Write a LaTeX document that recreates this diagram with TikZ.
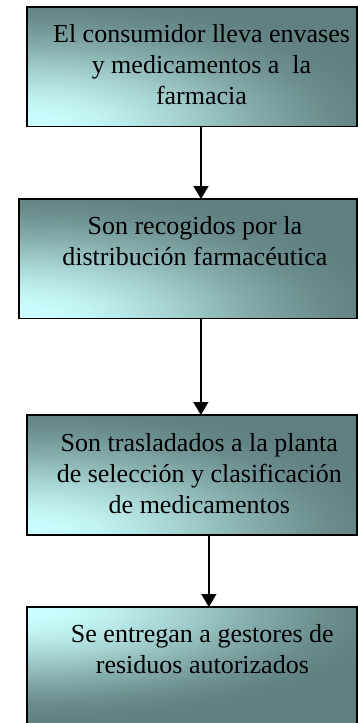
\documentclass[tikz,border=0pt]{standalone}
\usepackage{fontspec}
\setmainfont{Liberation Serif}
\usetikzlibrary{arrows.meta}
\definecolor{lightc}{HTML}{CCFFFF}
\definecolor{darkc}{HTML}{5F807F}
\pgfdeclareradialshading{stageglow}{\pgfpointorigin}{color(0bp)=(lightc);
  color(2.5bp)=(lightc!97!darkc); color(5bp)=(lightc!90!darkc);
  color(7.5bp)=(lightc!78!darkc); color(10bp)=(lightc!65!darkc);
  color(12.5bp)=(lightc!50!darkc); color(15bp)=(lightc!35!darkc);
  color(17.5bp)=(lightc!22!darkc); color(20bp)=(lightc!10!darkc);
  color(22.5bp)=(lightc!3!darkc); color(25bp)=(darkc); color(50bp)=(darkc)}
\begin{document}
\begin{tikzpicture}[x=1pt, y=-1pt,
    stage/.style={draw, line width=1.6pt, fill=darkc, inner sep=0pt, outer sep=0pt},
    glowup/.style={path picture={\shade[shading=stageglow]
        (path picture bounding box.south west) ellipse [x radius=380pt, y radius=135pt];}},
    glowdown/.style={path picture={\shade[shading=stageglow]
        (path picture bounding box.north west) ellipse [x radius=380pt, y radius=118pt];}},
    txt/.style={align=center, inner sep=0pt, anchor=north, font=\fontsize{26}{31}\selectfont},
    flow/.style={line width=1.6pt, -{Triangle[length=13pt, width=15pt]}}]
  \useasboundingbox (0, 0) rectangle (358, 723);

  \node[stage, glowup, minimum width=330pt, minimum height=119.7pt] (box1) at (192, 66.8){};
  \node[stage, glowup, minimum width=338.3pt, minimum height=119.3pt] (box2) at (187.85, 258.65){};
  \node[stage, glowup, minimum width=330.3pt, minimum height=119.7pt] (box3) at (191.85, 474.85){};
  \node[stage, glowdown, minimum width=330.3pt, minimum height=120pt] (box4) at (191.85, 667){};

  \node[txt] (t1) at ([xshift=9.5pt, yshift=-17pt]box1.north){El consumidor lleva envases\\ y medicamentos a\ \ la\\ farmacia};
  \node[txt] (t2) at ([xshift=7pt, yshift=-17.5pt]box2.north){Son recogidos por la\\ distribución farmacéutica};
  \node[txt] (t3) at ([xshift=7.5pt, yshift=-18pt]box3.north){Son trasladados a la planta\\ de selección y clasificación\\ de medicamentos};
  \node[txt] (t4) at ([xshift=10.5pt, yshift=-17pt]box4.north){Se entregan a gestores de\\ residuos autorizados};

  \draw[flow] ([xshift=9pt]box1.south) -- ([xshift=9pt]box1.south |- box2.north);
  \draw[flow] ([xshift=13pt]box2.south) -- ([xshift=13pt]box2.south |- box3.north);
  \draw[flow] ([xshift=17pt]box3.south) -- ([xshift=17pt]box3.south |- box4.north);
\end{tikzpicture}
\end{document}
